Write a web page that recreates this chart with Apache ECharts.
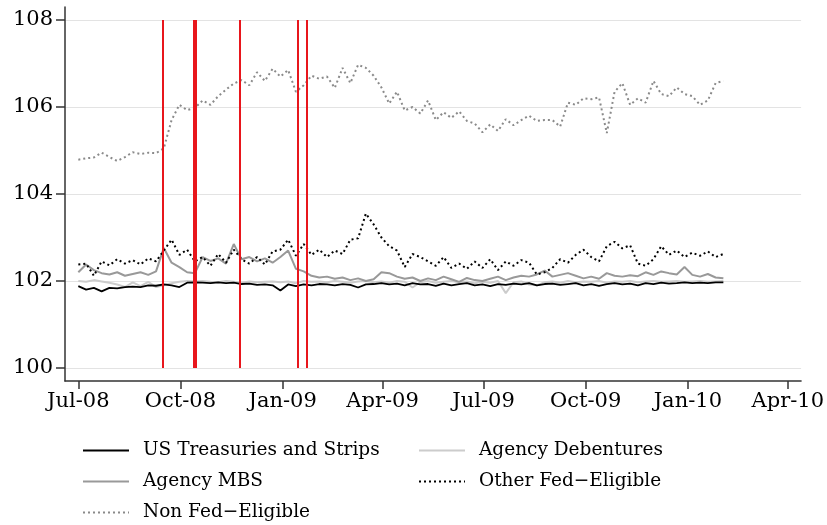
<!DOCTYPE html>
<html>
<head>
<meta charset="utf-8">
<script src="https://cdn.jsdelivr.net/npm/echarts@6/dist/echarts.min.js"></script>
<style>
  html, body { margin: 0; padding: 0; background: #fff; }
  #chart { width: 827px; height: 525px; }
</style>
</head>
<body>
<div id="chart"></div>
<script>
// weekly readings starting 1 Jul 2008
var startDate = Date.UTC(2008, 6, 1);
var DAY = 86400000;

var treasuries = [101.88,101.8,101.84,101.76,101.84,101.83,101.86,101.87,101.86,101.9,101.89,101.92,101.9,101.86,101.96,101.97,101.96,101.95,101.97,101.95,101.96,101.93,101.94,101.91,101.92,101.9,101.78,101.92,101.88,101.92,101.9,101.93,101.92,101.9,101.93,101.91,101.85,101.92,101.93,101.95,101.92,101.94,101.9,101.95,101.92,101.93,101.89,101.94,101.9,101.93,101.95,101.9,101.92,101.88,101.93,101.91,101.94,101.92,101.95,101.9,101.93,101.94,101.91,101.93,101.95,101.9,101.93,101.89,101.93,101.95,101.92,101.94,101.9,101.95,101.93,101.96,101.94,101.95,101.97,101.95,101.96,101.95,101.97,101.97];
var debentures = [102.0,101.98,102.02,101.99,101.96,101.92,101.86,101.97,101.88,101.98,101.86,101.9,101.95,101.98,102.0,101.99,102.0,101.98,101.97,102.0,101.98,101.96,101.99,101.97,101.98,101.99,101.97,101.99,101.95,102.0,101.98,101.99,101.97,102.0,101.98,101.96,101.99,102.0,101.97,101.99,101.96,102.0,101.98,101.85,101.97,102.0,101.96,101.98,102.0,101.97,101.99,101.95,101.98,101.96,102.0,101.72,101.97,101.99,101.92,101.9,101.97,101.99,101.96,102.0,101.97,101.99,101.98,102.0,101.96,101.99,101.98,102.0,101.97,101.99,102.0,101.98,101.99,102.0,101.98,101.99,102.0,101.98,101.99,102.0];
var mbs = [102.2,102.38,102.25,102.18,102.15,102.2,102.12,102.16,102.2,102.14,102.22,102.76,102.42,102.32,102.2,102.18,102.55,102.46,102.52,102.4,102.85,102.5,102.55,102.45,102.52,102.42,102.55,102.7,102.28,102.22,102.12,102.08,102.1,102.05,102.08,102.02,102.06,102.0,102.04,102.2,102.18,102.1,102.05,102.08,102.0,102.06,102.02,102.1,102.04,101.98,102.07,102.02,102.0,102.05,102.1,102.02,102.08,102.12,102.1,102.15,102.24,102.1,102.14,102.18,102.12,102.06,102.1,102.05,102.18,102.12,102.1,102.13,102.11,102.2,102.14,102.22,102.18,102.15,102.32,102.14,102.1,102.16,102.08,102.06];
var otherFed = [102.38,102.4,102.12,102.45,102.36,102.5,102.4,102.48,102.38,102.52,102.45,102.7,102.95,102.6,102.72,102.45,102.55,102.35,102.62,102.42,102.72,102.5,102.4,102.55,102.38,102.68,102.72,102.95,102.58,102.85,102.6,102.72,102.55,102.7,102.62,102.95,102.98,103.55,103.3,103.0,102.8,102.7,102.32,102.62,102.55,102.45,102.35,102.55,102.3,102.4,102.28,102.45,102.3,102.5,102.25,102.45,102.35,102.48,102.42,102.15,102.2,102.3,102.5,102.42,102.6,102.72,102.55,102.45,102.8,102.9,102.75,102.82,102.4,102.35,102.5,102.8,102.6,102.7,102.55,102.65,102.58,102.68,102.55,102.62];
var nonFed = [104.79,104.82,104.84,104.95,104.85,104.76,104.85,104.96,104.92,104.95,104.94,105.05,105.7,106.05,105.93,105.98,106.15,106.05,106.25,106.4,106.54,106.62,106.5,106.8,106.6,106.88,106.7,106.85,106.35,106.5,106.72,106.65,106.7,106.44,106.9,106.55,106.97,106.9,106.72,106.45,106.08,106.35,105.92,106.0,105.85,106.15,105.7,105.88,105.75,105.9,105.68,105.62,105.42,105.6,105.45,105.72,105.58,105.7,105.8,105.68,105.7,105.7,105.55,106.1,106.05,106.2,106.18,106.22,105.4,106.35,106.55,106.05,106.2,106.1,106.6,106.3,106.25,106.45,106.3,106.25,106.05,106.15,106.55,106.6];

// event dates (red vertical lines)
var eventDates = ['2008-09-15','2008-10-13','2008-10-15','2008-11-23','2009-01-15','2009-01-23'];
var quarterTicks = ['2008-07-01','2008-10-01','2009-01-01','2009-04-01','2009-07-01','2009-10-01','2010-01-01','2010-04-01'];
var yTicks = [100, 102, 104, 106, 108];
var monthNames = ['Jan','Feb','Mar','Apr','May','Jun','Jul','Aug','Sep','Oct','Nov','Dec'];

function toTime(s) {
  var p = s.split('-');
  return Date.UTC(+p[0], +p[1] - 1, +p[2]);
}
function pairs(values) {
  return values.map(function (v, i) { return [startDate + i * 7 * DAY, v]; });
}

var chart = echarts.init(document.getElementById('chart'));
var FONT = 'DejaVu Serif';

var legendCommon = {
  orient: 'vertical', top: 441, itemGap: 12, padding: 0,
  itemWidth: 46, itemHeight: 14,
  itemStyle: { opacity: 0 },
  textStyle: { fontFamily: FONT, fontSize: 18.5, lineHeight: 18, color: '#000', padding: [0, 0, 0, 9] }
};

var option = {
  animation: false,
  backgroundColor: '#fff',
  grid: { left: 65, right: 20, top: 7, bottom: 144 },
  legend: [
    Object.assign({}, legendCommon, {
      left: 82,
      data: ['US Treasuries and Strips', 'Agency MBS', 'Non Fed\u2212Eligible']
    }),
    Object.assign({}, legendCommon, {
      left: 418,
      data: ['Agency Debentures', 'Other Fed\u2212Eligible']
    })
  ],
  xAxis: {
    type: 'value',
    min: toTime('2008-06-19'),
    max: toTime('2010-04-13'),
    splitLine: { show: false },
    axisLine: { lineStyle: { color: '#333', width: 1.5 } },
    axisTick: { show: true, length: 8, lineStyle: { color: '#333', width: 1.5 },
      customValues: quarterTicks.map(toTime) },
    axisLabel: {
      customValues: quarterTicks.map(toTime),
      margin: 10, fontFamily: FONT, fontSize: 21, color: '#000',
      formatter: function (v) {
        var d = new Date(v);
        var yy = String(d.getUTCFullYear()).slice(2);
        return monthNames[d.getUTCMonth()] + '-' + yy;
      }
    }
  },
  yAxis: {
    type: 'value',
    min: 99.7,
    max: 108.3,
    axisLine: { show: true, lineStyle: { color: '#333', width: 1.5 } },
    axisTick: { show: true, length: 9, lineStyle: { color: '#333', width: 1.5 }, customValues: yTicks },
    axisLabel: { customValues: yTicks, margin: 12, fontFamily: FONT, fontSize: 21, color: '#000' },
    splitLine: { show: true, lineStyle: { color: '#e3e3e3', width: 1 } }
  },
  series: [
    {
      name: 'Agency Debentures', type: 'line', symbol: 'none',
      lineStyle: { color: '#cccccc', width: 2 }, itemStyle: { color: '#cccccc' },
      data: pairs(debentures)
    },
    {
      name: 'Agency MBS', type: 'line', symbol: 'none',
      lineStyle: { color: '#999999', width: 2 }, itemStyle: { color: '#999999' },
      data: pairs(mbs)
    },
    {
      name: 'US Treasuries and Strips', type: 'line', symbol: 'none',
      lineStyle: { color: '#000', width: 1.8 }, itemStyle: { color: '#000' },
      data: pairs(treasuries)
    },
    {
      name: 'Other Fed\u2212Eligible', type: 'line', symbol: 'none',
      lineStyle: { color: '#000', width: 2, type: [2, 3] }, itemStyle: { color: '#000' },
      data: pairs(otherFed)
    },
    {
      name: 'Non Fed\u2212Eligible', type: 'line', symbol: 'none',
      lineStyle: { color: '#8a8a8a', width: 2, type: [2, 3] }, itemStyle: { color: '#8a8a8a' },
      data: pairs(nonFed),
      markLine: {
        silent: true, symbol: 'none', z: 10,
        label: { show: false },
        lineStyle: { color: '#e8161c', width: 2, type: 'solid' },
        data: eventDates.map(function (d) {
          return [{ coord: [toTime(d), yTicks[0]] }, { coord: [toTime(d), yTicks[yTicks.length - 1]] }];
        })
      }
    }
  ]
};
chart.setOption(option);
</script>
</body>
</html>
